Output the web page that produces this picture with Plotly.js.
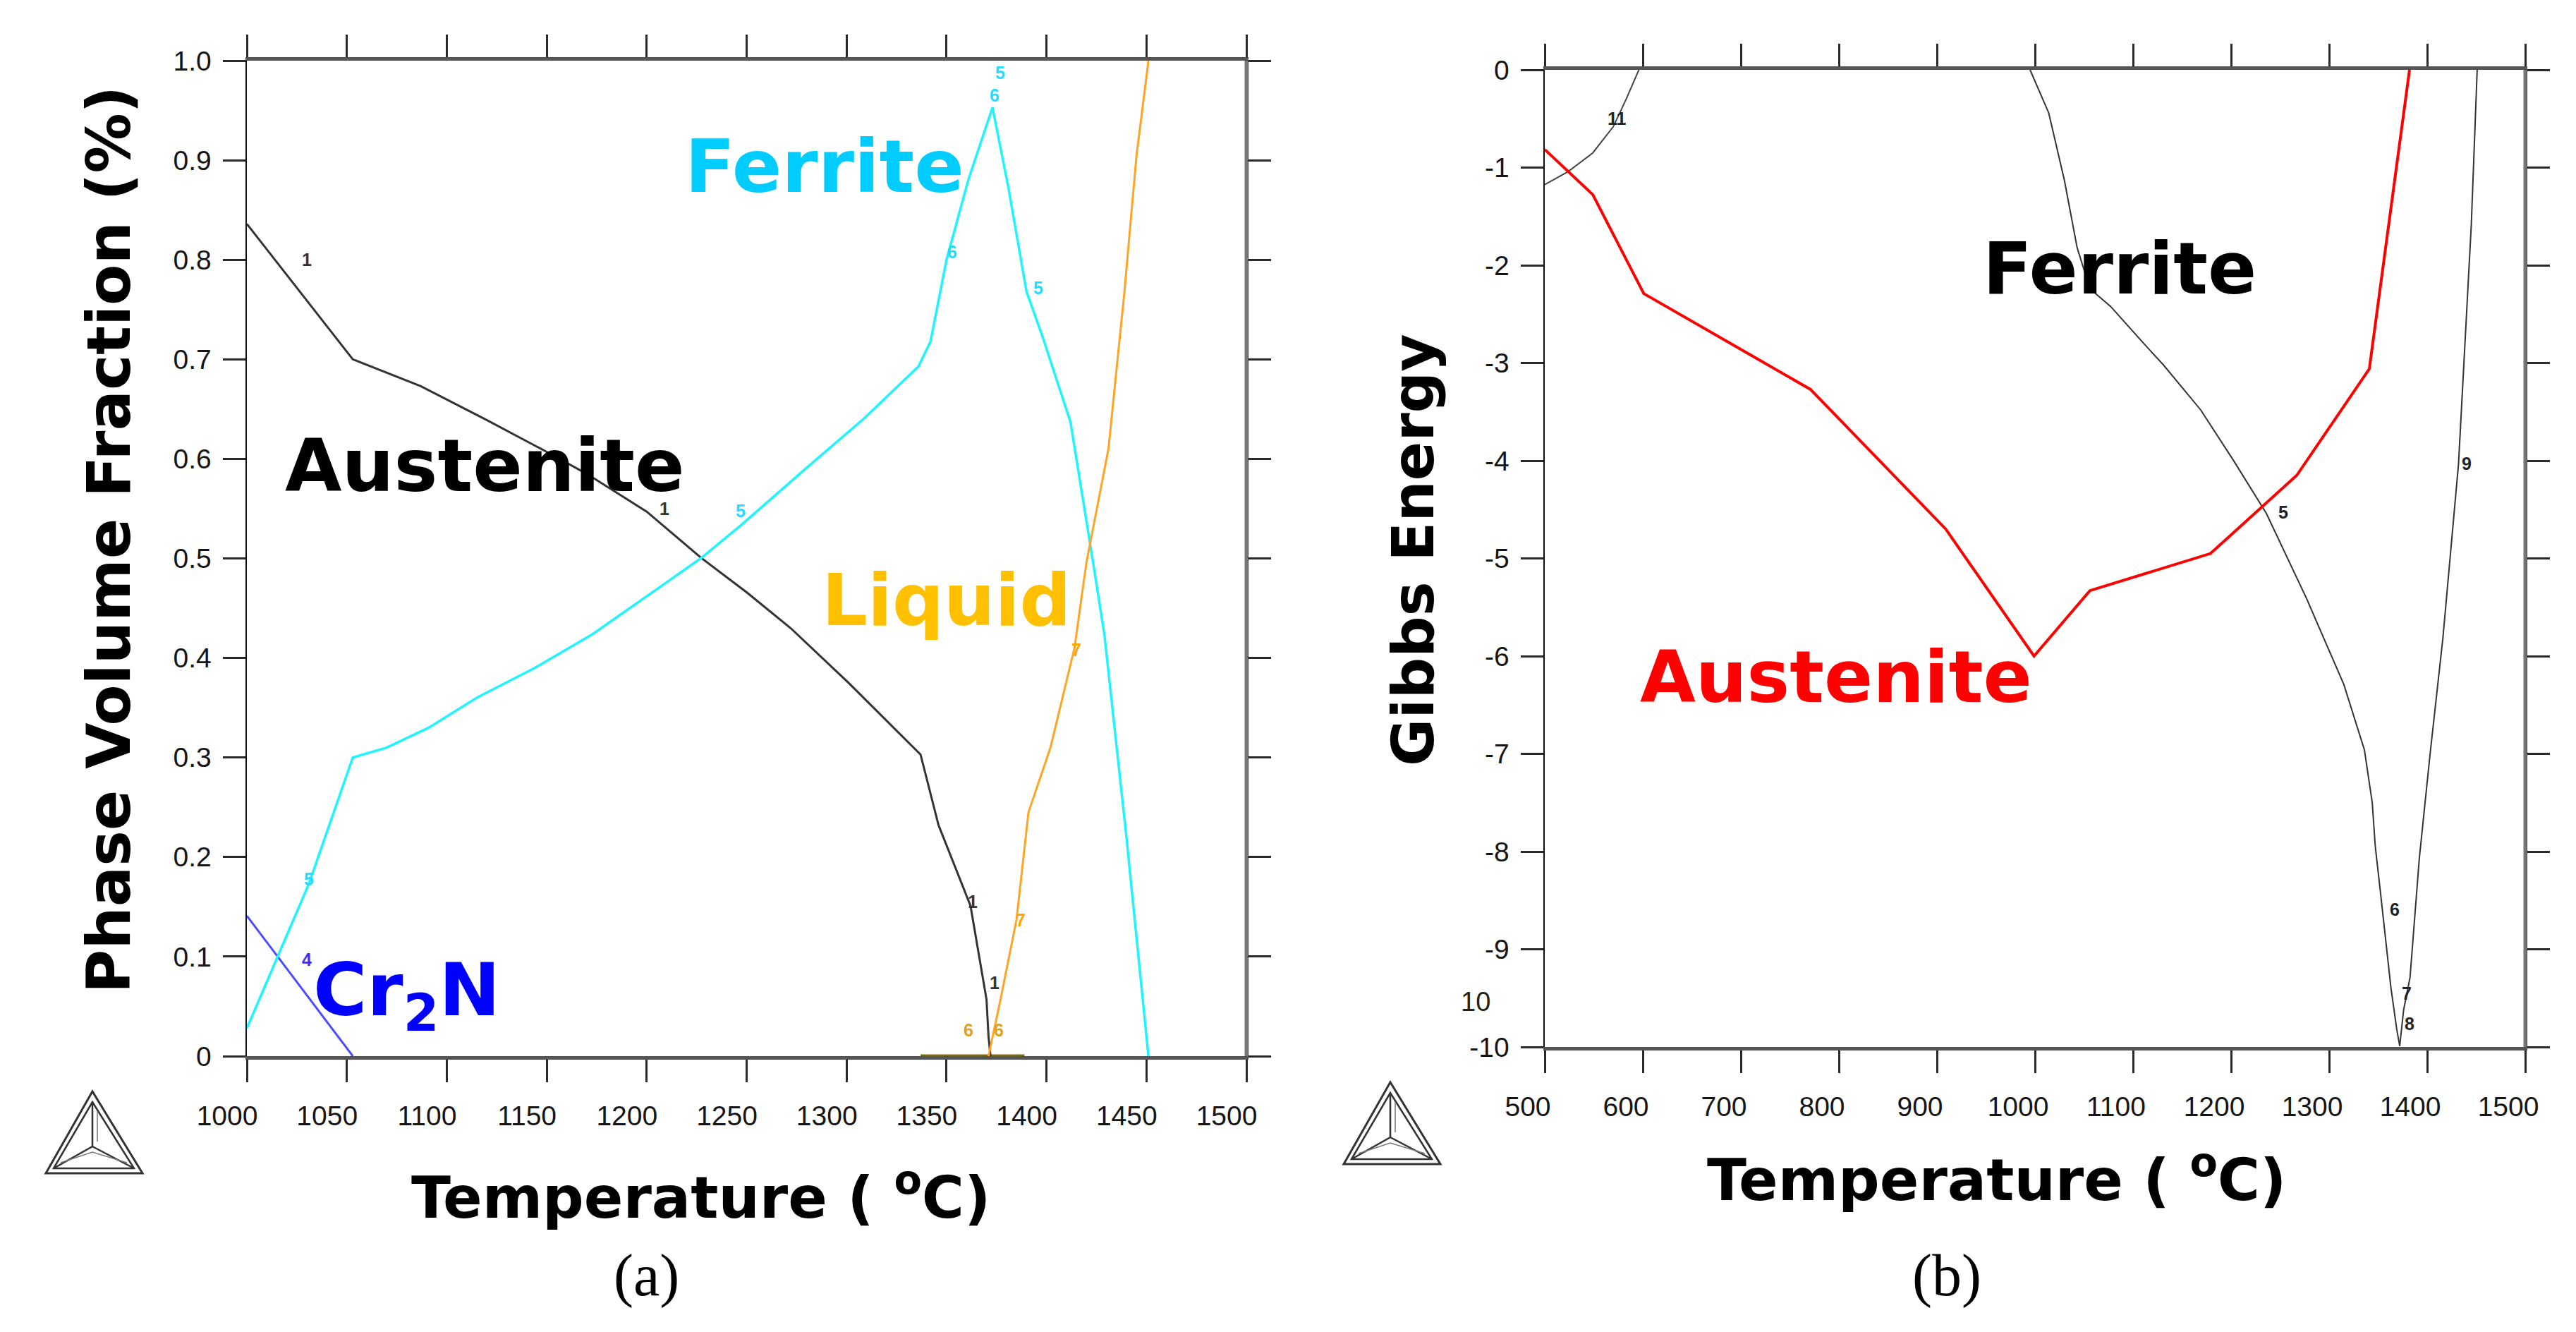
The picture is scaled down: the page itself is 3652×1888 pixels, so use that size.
<!DOCTYPE html>
<html>
<head>
<meta charset="utf-8">
<script src="https://cdn.plot.ly/plotly-3.0.1.min.js"></script>
<style>html,body{margin:0;padding:0;background:#fff;}#chart{width:3652px;height:1888px;}</style>
</head>
<body>
<div id="chart"></div>
<script>
// ---------- Panel (a): phase volume fraction ----------
const tempTicksA = [1000, 1050, 1100, 1150, 1200, 1250, 1300, 1350, 1400, 1450, 1500];
const fracTicks = [0, 0.1, 0.2, 0.3, 0.4, 0.5, 0.6, 0.7, 0.8, 0.9, 1.0];
const fracTickText = ["0", "0.1", "0.2", "0.3", "0.4", "0.5", "0.6", "0.7", "0.8", "0.9", "1.0"];

const austeniteT = [1000, 1053, 1087, 1120, 1150, 1170, 1200, 1227, 1250, 1272, 1301, 1337, 1346, 1362, 1370, 1371, 1372];
const austeniteV = [0.836, 0.700, 0.673, 0.639, 0.607, 0.585, 0.547, 0.501, 0.466, 0.430, 0.375, 0.303, 0.232, 0.151, 0.057, 0.020, 0.0];

const ferriteT = [1000, 1031, 1053, 1070, 1091, 1115, 1144, 1173, 1210, 1227, 1247, 1280, 1309, 1336, 1342, 1350, 1361, 1373, 1381, 1390, 1398, 1412, 1423, 1429, 1440, 1451];
const ferriteV = [0.028, 0.173, 0.300, 0.310, 0.330, 0.360, 0.390, 0.424, 0.476, 0.500, 0.533, 0.591, 0.641, 0.693, 0.718, 0.800, 0.881, 0.953, 0.872, 0.768, 0.723, 0.637, 0.500, 0.423, 0.220, 0.0];

const liquidT = [1371, 1377, 1385, 1391, 1402, 1414, 1420, 1431, 1439, 1445, 1451];
const liquidV = [0.0, 0.057, 0.137, 0.245, 0.310, 0.410, 0.496, 0.610, 0.768, 0.904, 1.0];

const cr2nT = [1000, 1053];
const cr2nV = [0.141, 0.0];

const baseSegT = [1337, 1389];
const baseSegV = [0.0, 0.0];

// ---------- Panel (b): Gibbs energy ----------
const tempTicksB = [500, 600, 700, 800, 900, 1000, 1100, 1200, 1300, 1400, 1500];
const gibbsTicks = [-10, -9, -8, -7, -6, -5, -4, -3, -2, -1, 0];
const gibbsTickText = ["-10", "-9", "-8", "-7", "-6", "-5", "-4", "-3", "-2", "-1", "0"];

const austeniteGT = [500, 549, 601, 771, 909, 999, 1056, 1179, 1267, 1341, 1382];
const austeniteG = [-0.815, -1.277, -2.29, -3.27, -4.70, -6.0, -5.33, -4.95, -4.15, -3.06, 0.0];

const ferriteGT = [995, 1014, 1030, 1043, 1056, 1077, 1110, 1131, 1169, 1202, 1236, 1277, 1315, 1336, 1344, 1347, 1352.5, 1358, 1363, 1369, 1372];
const ferriteG = [0, -0.44, -1.13, -1.82, -2.24, -2.42, -2.79, -3.02, -3.48, -3.99, -4.54, -5.41, -6.29, -6.96, -7.5, -7.94, -8.43, -8.95, -9.39, -9.82, -9.99];

const rightGT = [1372, 1376, 1382.5, 1387, 1392, 1403, 1416, 1432, 1445, 1451];
const rightG = [-9.99, -9.62, -9.29, -8.74, -8.07, -7.0, -5.82, -4.03, -1.59, 0];

const curve11T = [500, 524, 549, 570, 583, 596];
const curve11G = [-1.175, -1.04, -0.85, -0.58, -0.30, 0];

// small Thermo-Calc curve labels [x, y, text, color]
const labelsA = [
  [1030, 0.80, "1", "#333"], [1209, 0.550, "1", "#333"], [1247, 0.548, "5", "#22ddff"],
  [1031, 0.178, "5", "#22ddff"], [1030, 0.097, "4", "#3333ff"], [1353, 0.808, "6", "#22ddff"],
  [1396, 0.772, "5", "#22ddff"], [1377, 0.988, "5", "#22ddff"], [1374, 0.965, "6", "#22ddff"],
  [1415, 0.408, "7", "#ffa500"], [1387, 0.137, "7", "#ffa500"], [1363, 0.155, "1", "#333"],
  [1374, 0.074, "1", "#333"], [1361, 0.026, "6", "#e0a020"], [1376, 0.026, "6", "#e0a020"]
];
const labelsB = [
  [574, -0.5, "11"], [1253, -4.53, "5"], [1440, -4.03, "9"], [1367, -8.59, "6"],
  [1379, -9.45, "7"], [1382, -9.76, "8"],
  [666, 0.2, "1"], [784, 0.2, "1"], [907, 0.2, "2"], [977, 0.2, "3"], [1003, 0.2, "4"], [1487, 0.2, "10"],
  [451, -9.24, "4"]
];

const W = 3652, H = 1888;
const PX = x => x / W, PY = y => 1 - y / H;

const traces = [
  {x: cr2nT, y: cr2nV, xaxis: 'x', yaxis: 'y', mode: 'lines', line: {color: '#4b4bff', width: 3}, name: 'Cr2N'},
  {x: baseSegT, y: baseSegV, xaxis: 'x', yaxis: 'y', mode: 'lines', line: {color: '#7a6a10', width: 5}, name: 'base'},
  {x: austeniteT, y: austeniteV, xaxis: 'x', yaxis: 'y', mode: 'lines', line: {color: '#333333', width: 3}, name: 'Austenite'},
  {x: ferriteT, y: ferriteV, xaxis: 'x', yaxis: 'y', mode: 'lines', line: {color: '#1ff4ff', width: 3.5}, name: 'Ferrite'},
  {x: liquidT, y: liquidV, xaxis: 'x', yaxis: 'y', mode: 'lines', line: {color: '#ffa526', width: 3}, name: 'Liquid'},
  {x: curve11T, y: curve11G, xaxis: 'x2', yaxis: 'y2', mode: 'lines', line: {color: '#444', width: 2}, name: '11'},
  {x: ferriteGT, y: ferriteG, xaxis: 'x2', yaxis: 'y2', mode: 'lines', line: {color: '#333', width: 2}, name: 'Ferrite G'},
  {x: rightGT, y: rightG, xaxis: 'x2', yaxis: 'y2', mode: 'lines', line: {color: '#333', width: 2}, name: 'right'},
  {x: austeniteGT, y: austeniteG, xaxis: 'x2', yaxis: 'y2', mode: 'lines', line: {color: '#ff0000', width: 4}, name: 'Austenite G'}
];

const tickFont = {family: 'Liberation Sans, Arial, sans-serif', size: 39, color: '#151515'};
const common = {
  showgrid: false, zeroline: false, showline: true, mirror: 'ticks', ticks: 'outside',
  ticklen: 32, tickwidth: 3, tickcolor: '#2a2a2a', tickfont: tickFont
};

const bigFont = (c, s) => ({family: 'DejaVu Sans, sans-serif', size: s, color: c, weight: 'bold'});
const ann = (o) => Object.assign({showarrow: false, xanchor: 'center', yanchor: 'middle'}, o);
const annotations = [
  ann({xref: 'x', yref: 'y', x: 1119, y: 0.593, text: 'Austenite', font: bigFont('#000', 104)}),
  ann({xref: 'x', yref: 'y', x: 1289, y: 0.894, text: 'Ferrite', font: bigFont('#00ccff', 104)}),
  ann({xref: 'x', yref: 'y', x: 1350, y: 0.458, text: 'Liquid', font: bigFont('#ffc000', 102)}),
  ann({xref: 'x', yref: 'y', x: 1080, y: 0.062, text: 'Cr<sub>2</sub>N', font: bigFont('#0000ff', 104)}),
  ann({xref: 'x2', yref: 'y2', x: 1086, y: -2.03, text: 'Ferrite', font: bigFont('#000', 102)}),
  ann({xref: 'x2', yref: 'y2', x: 797, y: -6.21, text: 'Austenite', font: bigFont('#ff0000', 102)}),
  ann({xref: 'paper', yref: 'paper', x: PX(155), y: PY(765), text: 'Phase Volume Fraction (%)', textangle: -90, font: bigFont('#000', 85)}),
  ann({xref: 'paper', yref: 'paper', x: PX(2003), y: PY(780), text: 'Gibbs Energy', textangle: -90, font: bigFont('#000', 82)}),
  ann({xref: 'paper', yref: 'paper', x: PX(993), y: PY(1692), text: 'Temperature ( <sup>o</sup>C)', font: bigFont('#000', 82)}),
  ann({xref: 'paper', yref: 'paper', x: PX(2830), y: PY(1667), text: 'Temperature ( <sup>o</sup>C)', font: bigFont('#000', 82)}),
  ann({xref: 'paper', yref: 'paper', x: PX(916), y: PY(1808), text: '(a)', font: {family: 'Liberation Serif, Times New Roman, serif', size: 84, color: '#000'}}),
  ann({xref: 'paper', yref: 'paper', x: PX(2760), y: PY(1808), text: '(b)', font: {family: 'Liberation Serif, Times New Roman, serif', size: 84, color: '#000'}}),
  ann({xref: 'paper', yref: 'paper', x: PX(2092), y: PY(1420), text: '10', font: {family: 'Liberation Sans, Arial, sans-serif', size: 38, color: '#221'}})
];
labelsA.forEach(l => annotations.push(ann({xref: 'x', yref: 'y', x: l[0], y: l[1], text: l[2],
  font: {family: 'Liberation Sans, Arial, sans-serif', size: 25, color: l[3], weight: 'bold'}})));
labelsB.forEach(l => annotations.push(ann({xref: 'x2', yref: 'y2', x: l[0], y: l[1], text: l[2],
  font: {family: 'Liberation Sans, Arial, sans-serif', size: 25, color: '#222', weight: 'bold'}})));

// Thermo-Calc style logo (decoration), drawn in page pixels
function logo(dx, dy) {
  const p = (x, y) => PX(x + dx) + ',' + PY(y + dy);
  const c = '#333';
  return [
    {type: 'path', xref: 'paper', yref: 'paper', path: 'M' + p(131, 1547) + 'L' + p(65, 1663) + 'L' + p(202, 1663) + 'Z', line: {color: c, width: 3}},
    {type: 'path', xref: 'paper', yref: 'paper', path: 'M' + p(131, 1562) + 'L' + p(76, 1656) + 'L' + p(190, 1656) + 'Z', line: {color: c, width: 2.5}},
    {type: 'path', xref: 'paper', yref: 'paper', path: 'M' + p(131, 1562) + 'L' + p(131, 1625) + 'L' + p(76, 1656) + 'M' + p(131, 1625) + 'L' + p(190, 1656), line: {color: c, width: 2.5}},
    {type: 'path', xref: 'paper', yref: 'paper', path: 'M' + p(138, 1575) + 'L' + p(138, 1618) + 'M' + p(86, 1648) + 'L' + p(131, 1633) + 'L' + p(180, 1648), line: {color: '#777', width: 1.5}}
  ];
}

const shapes = [
  {type: 'line', xref: 'x domain', yref: 'y domain', x0: 1, x1: 1, y0: 0, y1: 1, line: {color: '#777', width: 5}},
  {type: 'line', xref: 'x2 domain', yref: 'y2 domain', x0: 1, x1: 1, y0: 0, y1: 1, line: {color: '#777', width: 5}}
].concat(logo(0, 0), logo(1840, -13));

const layout = {
  width: W, height: H,
  margin: {l: 0, r: 0, t: 0, b: 0},
  paper_bgcolor: '#fff', plot_bgcolor: '#fff',
  showlegend: false,
  xaxis: Object.assign({}, common, {domain: [PX(350), PX(1767)], range: [1000, 1500], anchor: 'y',
    tickvals: tempTicksA, ticktext: tempTicksA.map(String), linecolor: '#555', linewidth: 5, ticklabelshift: -28, ticklabelstandoff: 14}),
  yaxis: Object.assign({}, common, {domain: [PY(1497), PY(86)], range: [0, 1], anchor: 'x',
    tickvals: fracTicks, ticktext: fracTickText, linecolor: '#111', linewidth: 2.5, ticklabelstandoff: 8}),
  xaxis2: Object.assign({}, common, {domain: [PX(2190), PX(3580)], range: [500, 1500], anchor: 'y2',
    tickvals: tempTicksB, ticktext: tempTicksB.map(String), linecolor: '#555', linewidth: 5, ticklabelshift: -24, ticklabelstandoff: 14}),
  yaxis2: Object.assign({}, common, {domain: [PY(1484), PY(99)], range: [-10, 0], anchor: 'x2',
    tickvals: gibbsTicks, ticktext: gibbsTickText, linecolor: '#111', linewidth: 2.5, ticklabelstandoff: 8}),
  annotations: annotations,
  shapes: shapes
};

Plotly.newPlot('chart', traces, layout, {staticPlot: true, displayModeBar: false});
</script>
</body>
</html>
